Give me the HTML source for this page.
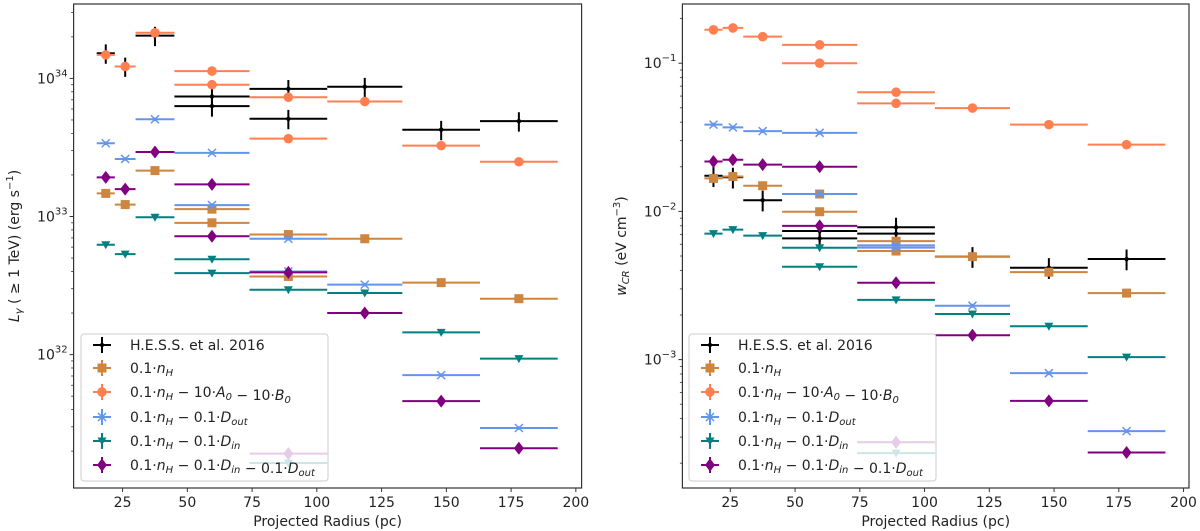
<!DOCTYPE html>
<html><head><meta charset="utf-8">
<style>
html,body{margin:0;padding:0;background:#fff;}
svg{display:block;font-family:"DejaVu Sans","Liberation Sans",sans-serif;}
</style></head>
<body>
<svg id="chart" width="1200" height="531" viewBox="0 0 1200 531" xmlns="http://www.w3.org/2000/svg"></svg>
<script>
// ---------- data ----------
const binLo = [15, 22, 30, 45, 74, 104, 133, 163];
const binHi = [22, 30, 45, 74, 104, 133, 163, 193];
// point bin index (two entries share bins 3 and 4)
const ptBin = [0, 1, 2, 3, 3, 4, 4, 5, 6, 7];
const seriesNames = ["hess", "nh", "nh-a0-b0", "nh-dout", "nh-din", "nh-din-dout"];
const seriesColors = ["#000000", "#cd853f", "#ff7f50", "#6495ed", "#008080", "#800080"];
const seriesMarkers = ["dot", "square", "circle", "x", "tri", "diamond"];
const seriesErr = [0.16, 0.03, 0.03, 0.03, 0.03, 0.04];

// Left panel: L_gamma (erg/s)
const lumHess = [1.52e34, 1.22e34, 2.04e34, 7.4e33, 6.3e33, 8.4e33, 5.1e33, 8.7e33, 4.25e33, 4.9e33];
const lumNh = [1.47e33, 1.22e33, 2.15e33, 1.13e33, 9.0e32, 7.4e32, 3.68e32, 6.9e32, 3.32e32, 2.54e32];
const lumAB = [1.48e34, 1.22e34, 2.14e34, 1.13e34, 9.0e33, 7.3e33, 3.66e33, 6.8e33, 3.26e33, 2.49e33];
const lumDout = [3.39e33, 2.61e33, 5.06e33, 2.89e33, 1.21e33, 6.9e32, 4.0e32, 3.21e32, 7.1e31, 2.94e31];
const lumDin = [6.25e32, 5.34e32, 9.87e32, 4.9e32, 3.89e32, 2.95e32, 1.64e31, 2.79e32, 1.45e32, 9.35e31];
const lumDinDout = [1.92e33, 1.58e33, 2.93e33, 1.71e33, 7.2e32, 3.94e32, 1.92e31, 2.0e32, 4.6e31, 2.1e31];

// Right panel: w_CR (eV cm^-3)
const wHess = [0.0174, 0.0170, 0.0119, 0.00738, 0.00657, 0.00781, 0.00708, 0.00495, 0.00417, 0.00477];
const wNh = [0.0167, 0.0172, 0.0149, 0.0131, 0.00995, 0.0063, 0.0054, 0.00495, 0.00389, 0.00281];
const wAB = [0.168, 0.173, 0.151, 0.133, 0.100, 0.0637, 0.0536, 0.0498, 0.0385, 0.0282];
const wDout = [0.0385, 0.0369, 0.0348, 0.0339, 0.0131, 0.0059, 0.0057, 0.00231, 8.1e-4, 3.29e-4];
const wDin = [0.00708, 0.00754, 0.00686, 0.00568, 0.00423, 0.00253, 2.34e-4, 0.00203, 0.00168, 0.00104];
const wDinDout = [0.0217, 0.0223, 0.0207, 0.0200, 0.00798, 0.0033, 2.77e-4, 0.00146, 5.27e-4, 2.36e-4];

const xTicks = [25, 50, 75, 100, 125, 150, 175, 200];
const leftYTicks = [32, 33, 34];
const rightYTicks = [-3, -2, -1];
const legendLabels = ["H.E.S.S. et al. 2016", "nh", "ab", "dout", "din", "dindout"];

// ---------- drawing ----------
const NS = "http://www.w3.org/2000/svg";
const svg = document.getElementById("chart");
function el(tag, attrs, parent) {
  const e = document.createElementNS(NS, tag);
  for (const k in attrs) e.setAttribute(k, attrs[k]);
  (parent || svg).appendChild(e);
  return e;
}

function panel(cfg, seriesData) {
  const g = el("g", {});
  
  
  const {x0, x1, y0, y1} = cfg;
  const xs = v => cfg.xA + (v - 25) * cfg.xK;
  const ys = v => cfg.yRef - (Math.log10(v) - cfg.eRef) * cfg.dec;
  const clip = "clip-" + cfg.name;
  const cp = el("clipPath", {id: clip}, g);
  el("rect", {x: x0, y: y0, width: x1 - x0, height: y1 - y0}, cp);
  const plot = el("g", {"clip-path": "url(#" + clip + ")"}, g);
  
  

  seriesData.forEach((vals, si) => {
    const col = seriesColors[si];
    const sg = el("g", {}, plot);
    
    
    vals.forEach((v, i) => {
      const b = ptBin[i];
      const cx = xs((binLo[b] + binHi[b]) / 2);
      const cy = ys(v);
      const pg = el("g", {}, sg);
      
      
      el("line", {x1: xs(binLo[b]), x2: xs(binHi[b]), y1: cy, y2: cy, stroke: col, "stroke-width": 2}, pg);
      const e = seriesErr[si];
      el("line", {x1: cx, x2: cx, y1: ys(v * (1 + e)), y2: ys(v * (1 - e)), stroke: col, "stroke-width": 2}, pg);
      drawMarker(pg, seriesMarkers[si], cx, cy, col);
    });
  });

  // frame
  const fr = el("rect", {x: x0, y: y0, width: x1 - x0, height: y1 - y0, fill: "none", stroke: "#333", "stroke-width": 1.2}, g);
  
  

  // x ticks
  xTicks.forEach(t => {
    const x = xs(t);
    el("line", {x1: x, x2: x, y1: y1, y2: y1 + 4, stroke: "#333", "stroke-width": 1}, g);
    const tx = el("text", {x: x, y: y1 + 19, "text-anchor": "middle", "font-size": 14, fill: "#222"}, g);
    tx.textContent = t;
    
    
  });
  const xt = el("text", {x: (x0 + x1) / 2, y: 526, "text-anchor": "middle", "font-size": 14, fill: "#222"}, g);
  xt.textContent = "Projected Radius (pc)";
  
  

  // y ticks (log)
  const eTop = cfg.eRef + (cfg.yRef - y0) / cfg.dec;
  const eBot = cfg.eRef - (y1 - cfg.yRef) / cfg.dec;
  for (let d = Math.floor(eBot); d <= Math.ceil(eTop); d++) {
    for (let m = 2; m <= 9; m++) {
      const v = m * Math.pow(10, d);
      const lv = Math.log10(v);
      if (lv < eBot || lv > eTop) continue;
      const y = ys(v);
      el("line", {x1: x0 - 2.5, x2: x0, y1: y, y2: y, stroke: "#333", "stroke-width": 0.8}, g);
    }
  }
  cfg.yTicks.forEach(d => {
    const y = ys(Math.pow(10, d));
    el("line", {x1: x0 - 4, x2: x0, y1: y, y2: y, stroke: "#333", "stroke-width": 1}, g);
    const tx = el("text", {x: x0 - 6, y: y + 5, "text-anchor": "end", "font-size": 14, fill: "#222"}, g);
    
    
    tx.innerHTML = '10<tspan dy="-7" font-size="10">' + (d < 0 ? '\u2212' + (-d) : d) + '</tspan>';
  });
  // y title
  const yt = el("text", {transform: "translate(" + cfg.yTitleX + "," + cfg.yTitleY + ") rotate(-90)", "text-anchor": "middle", "font-size": 14, fill: "#222"}, g);
  
  
  yt.innerHTML = cfg.yTitle;

  // legend
  const lg = el("g", {}, g);
  
  
  el("rect", {x: cfg.lx, y: 334, width: 247, height: 147, rx: 3, fill: "#fff", "fill-opacity": 0.8, stroke: "#ccc", "stroke-width": 1}, lg);
  const rows = [345, 368, 392, 417, 441, 465];
  legendLabels.forEach((lab, i) => {
    const eg = el("g", {}, lg);
    
    
    const mx = cfg.lx + 21, my = rows[i];
    el("line", {x1: mx - 9, x2: mx + 9, y1: my, y2: my, stroke: seriesColors[i], "stroke-width": 2}, eg);
    el("line", {x1: mx, x2: mx, y1: my - 8, y2: my + 8, stroke: seriesColors[i], "stroke-width": 2}, eg);
    drawMarker(eg, seriesMarkers[i], mx, my, seriesColors[i]);
    const t = el("text", {x: cfg.lx + 49, y: my + 5, "font-size": 14, fill: "#222"}, eg);
    t.innerHTML = legendHtml(lab);
  });
}

function legendHtml(k) {
  const nh = '0.1\u00B7<tspan font-style="italic">n</tspan><tspan font-style="italic" font-size="10" dy="3">H</tspan><tspan dy="-3"> </tspan>';
  const sub = (b, s) => '<tspan font-style="italic">' + b + '</tspan><tspan font-style="italic" font-size="10" dy="3">' + s + '</tspan><tspan dy="-3"></tspan>';
  if (k === "nh") return nh;
  if (k === "ab") return nh + '\u2212 10\u00B7' + sub('A', '0') + ' \u2212 10\u00B7' + sub('B', '0');
  if (k === "dout") return nh + '\u2212 0.1\u00B7' + sub('D', 'out');
  if (k === "din") return nh + '\u2212 0.1\u00B7' + sub('D', 'in');
  if (k === "dindout") return nh + '\u2212 0.1\u00B7' + sub('D', 'in') + ' \u2212 0.1\u00B7' + sub('D', 'out');
  return k;
}

function drawMarker(p, type, x, y, c) {
  if (type === "dot") el("circle", {cx: x, cy: y, r: 2.2, fill: c}, p);
  else if (type === "circle") el("circle", {cx: x, cy: y, r: 4.8, fill: c}, p);
  else if (type === "square") el("rect", {x: x - 4.5, y: y - 4.5, width: 9, height: 9, fill: c}, p);
  else if (type === "diamond") el("polygon", {points: [x, y - 6.5, x + 5, y, x, y + 6.5, x - 5, y].join(","), fill: c}, p);
  else if (type === "tri") el("polygon", {points: [x - 4.5, y - 3.5, x + 4.5, y - 3.5, x, y + 4.5].join(","), fill: c}, p);
  else if (type === "x") {
    el("line", {x1: x - 4, y1: y - 4, x2: x + 4, y2: y + 4, stroke: c, "stroke-width": 1.5}, p);
    el("line", {x1: x - 4, y1: y + 4, x2: x + 4, y2: y - 4, stroke: c, "stroke-width": 1.5}, p);
  }
}

panel({name: "left-panel", x0: 73.6, x1: 581.6, y0: 4, y1: 488, xA: 122.6, xK: 2.59,
  yRef: 78.4, eRef: 34, dec: 138.1, yTicks: leftYTicks, lx: 81,
  yTitleX: 19, yTitleY: 246,
  yTitle: '<tspan font-style="italic">L</tspan><tspan font-style="italic" font-size="10" dy="3">\u03B3</tspan><tspan dy="-3"> ( \u2265 1 TeV) (erg s</tspan><tspan dy="-6" font-size="10">\u22121</tspan><tspan dy="6">)</tspan>'},
  [lumHess, lumNh, lumAB, lumDout, lumDin, lumDinDout]);

panel({name: "right-panel", x0: 682.4, x1: 1189, y0: 4, y1: 488, xA: 730.3, xK: 2.59,
  yRef: 63.2, eRef: -1, dec: 148.2, yTicks: rightYTicks, lx: 689,
  yTitleX: 626, yTitleY: 246,
  yTitle: '<tspan font-style="italic">w</tspan><tspan font-style="italic" font-size="10" dy="3">CR</tspan><tspan dy="-3"> (eV cm</tspan><tspan dy="-6" font-size="10">\u22123</tspan><tspan dy="6">)</tspan>'},
  [wHess, wNh, wAB, wDout, wDin, wDinDout]);
</script>
</body></html>
